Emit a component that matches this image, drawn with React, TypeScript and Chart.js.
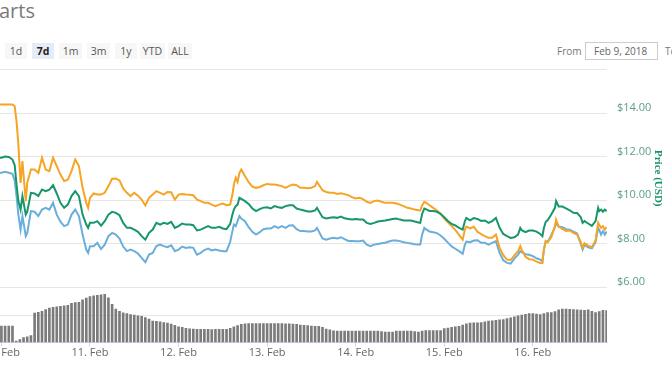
import React, { useEffect, useRef } from 'react';
import { Chart, registerables } from 'chart.js';

Chart.register(...registerables);

// hours since 10 Feb 2018 00:00
const priceHours = [
  -1, 0, 1, 2, 3, 3.6, 4.1, 4.6, 5.2, 5.7, 6.6, 7,
  8, 9, 10, 11, 12, 13, 14, 15,
  16, 17, 18, 19, 20, 21, 22, 23,
  23.5, 24, 25, 26, 27, 28, 29, 30, 31,
  32, 33, 34, 35, 36, 37, 38, 39, 40, 41,
  42, 43, 44, 45, 46, 47, 48, 49, 50, 51,
  52, 53, 54, 55, 56, 57, 58, 59, 60, 61,
  62, 62.6, 63, 63.5, 64, 64.5, 65, 66, 67, 68,
  69, 70, 71, 72, 73, 74, 75, 76, 77, 78,
  79, 80, 81, 82, 83, 84, 85, 85.5,
  87, 88, 89, 90, 91, 92, 93, 94, 95, 96,
  97, 98, 99, 100, 101, 102, 103, 104, 105, 106,
  107, 108, 109, 110, 111, 112, 113, 113.5,
  114, 114.6, 115, 116, 117, 118, 119, 120, 121, 122,
  123, 124, 125, 125.6, 126, 127, 128, 129, 130, 131,
  132, 133, 134, 135, 136, 137, 138, 139, 140, 140.6,
  141, 142, 143, 144, 145, 146, 146.6, 147, 147.5, 148,
  149, 150, 150.3, 151, 152, 153, 154, 155, 156, 157,
  157.5, 158, 159, 160, 161, 161.7, 162, 162.5, 163, 163.5, 164,
];

const orangeSeries = [
  14.39, 14.39, 14.39, 14.39, 14.39, 14.31, 13.62, 12.55, 10.79, 11.79, 9.95, 10.79,
  11.4, 11.4, 11.25, 11.94, 11.4, 11.33, 11.94, 11.56,
  11.17, 10.87, 10.93, 11.33, 11.86, 11.56, 10.56, 9.87,
  9.64, 10.1, 10.3, 10.25, 10.25, 10.33, 10.64, 10.98, 10.99,
  10.9, 10.53, 10.33, 10.18, 10.33, 10.2, 10.02, 9.75, 10.1, 10.25,
  10.41, 10.33, 10.25, 10.37, 10.36, 10.02, 10.25, 10.28, 10.25, 10.24,
  10.22, 10.02, 9.95, 9.87, 9.87, 9.79, 9.72, 9.79, 9.84, 9.76,
  9.79, 10.25, 10.71, 11.02, 10.83, 11.25, 11.4, 11.1, 10.82, 10.62,
  10.56, 10.6, 10.68, 10.74, 10.71, 10.71, 10.68, 10.64, 10.56, 10.65,
  10.71, 10.68, 10.56, 10.56, 10.54, 10.56, 10.64, 10.84,
  10.45, 10.37, 10.33, 10.33, 10.28, 10.31, 10.27, 10.22, 10.13, 10.07,
  10.1, 10.04, 9.92, 9.87, 9.95, 9.98, 9.92, 9.87, 9.87, 9.87,
  9.84, 9.79, 9.72, 9.64, 9.61, 9.56, 9.53, 9.52,
  9.75, 9.92, 9.88, 9.76, 9.64, 9.52, 9.38, 9.15, 8.97, 8.8,
  8.63, 8.4, 8.18, 8.64, 8.78, 8.7, 8.77, 8.54, 8.43, 8.34,
  8.26, 8.26, 8.41, 7.8, 7.46, 7.26, 7.24, 7.46, 7.65, 7.88,
  7.72, 7.39, 7.28, 7.26, 7.17, 7.11, 7.11, 7.72, 8.11, 8.06,
  8.29, 8.8, 9.1, 8.78, 8.67, 8.58, 8.6, 8.49, 8.41, 8.06,
  7.8, 8.01, 7.9, 7.83, 8.14, 8.95, 8.86, 8.72, 8.8, 8.64, 8.75,
];

const greenSeries = [
  11.94, 11.94, 12.0, 11.98, 11.86, 11.6, 10.71, 9.95, 9.56, 10.18, 9.33, 9.46,
  10.33, 10.3, 10.18, 10.48, 10.41, 10.48, 10.68, 10.3,
  9.87, 9.64, 9.79, 10.18, 10.41, 10.18, 9.33, 8.87,
  8.72, 8.95, 8.95, 9.03, 8.82, 9.03, 9.33, 9.46, 9.41,
  9.3, 8.95, 8.72, 8.72, 8.64, 8.54, 8.34, 8.18, 8.49, 8.64,
  8.95, 8.87, 8.95, 8.9, 9.0, 8.72, 8.8, 8.92, 8.87, 8.87,
  8.84, 8.6, 8.64, 8.72, 8.8, 8.72, 8.72, 8.77, 8.69, 8.66,
  8.9, 9.33, 9.56, 9.72, 9.79, 10.1, 10.05, 9.95, 9.82, 9.61,
  9.49, 9.58, 9.65, 9.67, 9.61, 9.72, 9.67, 9.64, 9.72, 9.76,
  9.76, 9.61, 9.56, 9.52, 9.47, 9.47, 9.52, 9.64,
  9.21, 9.15, 9.18, 9.21, 9.18, 9.24, 9.16, 9.13, 9.1, 9.13,
  9.1, 9.1, 8.95, 8.9, 8.95, 9.01, 9.04, 9.06, 9.09, 9.13,
  9.15, 9.1, 9.06, 9.06, 9.06, 9.01, 8.97, 8.95,
  9.36, 9.61, 9.58, 9.5, 9.49, 9.46, 9.36, 9.21, 9.04, 8.9,
  8.83, 8.72, 8.64, 9.03, 9.18, 9.07, 9.17, 9.13, 9.04, 9.06,
  8.95, 9.03, 9.18, 8.72, 8.44, 8.34, 8.26, 8.29, 8.41, 8.72,
  8.61, 8.52, 8.6, 8.6, 8.55, 8.44, 8.34, 8.72, 9.0, 9.07,
  9.33, 9.64, 9.95, 9.7, 9.7, 9.62, 9.53, 9.41, 9.4, 9.21,
  8.95, 9.03, 8.92, 8.81, 9.03, 9.64, 9.49, 9.56, 9.46, 9.56, 9.49,
];

const blueSeries = [
  11.25, 11.25, 11.3, 11.25, 11.2, 10.9, 10.18, 9.33, 8.64, 9.26, 8.34, 8.49,
  9.49, 9.46, 9.26, 9.56, 9.64, 9.56, 9.87, 9.33,
  9.0, 8.8, 8.87, 9.33, 9.56, 9.26, 8.41, 7.72,
  7.57, 7.88, 7.88, 8.03, 7.75, 7.95, 8.34, 8.49, 8.41,
  8.23, 7.86, 7.65, 7.72, 7.65, 7.54, 7.34, 7.14, 7.49, 7.57,
  7.88, 7.95, 7.88, 7.83, 7.92, 7.65, 7.72, 7.86, 7.8, 7.83,
  7.8, 7.49, 7.57, 7.7, 7.77, 7.68, 7.72, 7.68, 7.65, 7.65,
  8.08, 8.57, 8.87, 8.8, 9.03, 9.26, 9.15, 9.03, 8.75, 8.54,
  8.41, 8.52, 8.66, 8.69, 8.69, 8.8, 8.72, 8.8, 8.72, 8.83,
  8.84, 8.66, 8.57, 8.57, 8.55, 8.55, 8.6, 8.72,
  8.23, 8.18, 8.23, 8.26, 8.23, 8.29, 8.2, 8.12, 8.12, 8.11,
  8.11, 8.14, 7.95, 7.88, 7.95, 7.98, 8.01, 8.04, 8.09, 8.14,
  8.14, 8.11, 8.06, 8.03, 8.0, 7.97, 7.95, 7.95,
  8.41, 8.72, 8.66, 8.55, 8.52, 8.48, 8.37, 8.22, 8.04, 7.87,
  7.76, 7.65, 7.53, 7.95, 8.09, 8.06, 8.14, 8.15, 8.03, 8.03,
  7.95, 8.03, 8.11, 7.57, 7.23, 7.11, 7.08, 7.31, 7.49, 7.65,
  7.6, 7.51, 7.48, 7.42, 7.32, 7.26, 7.19, 7.72, 8.11, 8.06,
  8.38, 8.75, 8.95, 8.78, 8.75, 8.66, 8.63, 8.55, 8.46, 7.98,
  7.72, 7.94, 7.83, 7.78, 8.06, 8.72, 8.63, 8.41, 8.57, 8.41, 8.55,
];

// hourly volume bars, first bar at hour -1
const volumeValues = [
  0.61, 0.61, 0.61, 0.61, 0.61, 0.06, 0.12, 0.19, 0.22, 0.26,
  1.08, 1.11, 1.15, 1.21, 1.26, 1.29, 1.31, 1.33, 1.35, 1.36,
  1.44, 1.46, 1.47, 1.56, 1.63, 1.68, 1.71, 1.73, 1.75, 1.76,
  1.64, 1.4, 1.23, 1.15, 1.09, 1.06, 1.03, 1.01, 0.98, 0.96,
  0.92, 0.86, 0.79, 0.78, 0.76, 0.74, 0.72, 0.68, 0.64, 0.58,
  0.56, 0.53, 0.51, 0.5, 0.49, 0.49, 0.49, 0.49, 0.48, 0.49,
  0.49, 0.49, 0.49, 0.53, 0.58, 0.63, 0.67, 0.69, 0.7, 0.7,
  0.7, 0.7, 0.7, 0.7, 0.7, 0.7, 0.7, 0.7, 0.69, 0.69,
  0.68, 0.67, 0.65, 0.64, 0.63, 0.61, 0.6, 0.6, 0.56, 0.5,
  0.47, 0.44, 0.43, 0.43, 0.43, 0.43, 0.43, 0.43, 0.43, 0.43,
  0.43, 0.43, 0.43, 0.43, 0.41, 0.39, 0.39, 0.39, 0.43, 0.43,
  0.43, 0.43, 0.43, 0.41, 0.39, 0.43, 0.45, 0.45, 0.45, 0.45,
  0.45, 0.52, 0.54, 0.56, 0.58, 0.6, 0.65, 0.69, 0.72, 0.73,
  0.73, 0.74, 0.76, 0.79, 0.8, 0.82, 0.84, 0.85, 0.88, 0.91,
  0.95, 0.98, 1.01, 1.04, 1.06, 1.06, 1.05, 1.03, 1.06, 1.1,
  1.1, 1.14, 1.2, 1.23, 1.23, 1.22, 1.21, 1.2, 1.19, 1.18,
  1.2, 1.15, 1.1, 1.14, 1.18, 1.17,
];

const dayTicks = [0, 24, 48, 72, 96, 120, 144];
const dayLabels = ['10. Feb', '11. Feb', '12. Feb', '13. Feb', '14. Feb', '15. Feb', '16. Feb'];
const priceTicks = [6, 8, 10, 12, 14, 16];
const rangeButtons = ['1d', '7d', '1m', '3m', '1y', 'YTD', 'ALL'];
const buttonBoxes = [
  { left: 5, width: 22 }, { left: 32, width: 22 }, { left: 59, width: 23 }, { left: 87, width: 23 },
  { left: 115, width: 22 }, { left: 140, width: 25 }, { left: 168, width: 24 },
];

const FONT = '"Open Sans", "DejaVu Sans", sans-serif';
const ORANGE = '#f6a425';
const GREEN = '#17966b';
const BLUE = '#6aaedb';

const titlePlugin = {
  id: 'priceTitle',
  afterDraw(chart: any) {
    const ctx = chart.ctx;
    const ys = chart.scales.y;
    const cy = (ys.getPixelForValue(16) + ys.getPixelForValue(6)) / 2;
    ctx.save();
    ctx.translate(chart.width - 14, cy);
    ctx.rotate(Math.PI / 2);
    ctx.font = 'bold 11px "Liberation Serif", serif';
    ctx.fillStyle = '#1a9466';
    ctx.textAlign = 'center';
    ctx.textBaseline = 'middle';
    ctx.fillText('Price (USD)', 0, 0);
    ctx.restore();
  },
};

export default function App() {
  const ref = useRef<HTMLCanvasElement>(null);

  useEffect(() => {
    if (!ref.current) return;
    const volumeHours = volumeValues.map((_, i) => i - 1);
    const chart = new Chart(ref.current, {
      type: 'bar',
      data: {
        datasets: [
          {
            type: 'line', label: 'Price (USD)',
            data: priceHours.map((h, i) => ({ x: h, y: greenSeries[i] })),
            borderColor: GREEN, borderWidth: 2, pointRadius: 0, yAxisID: 'y', order: 1,
          } as any,
          {
            type: 'line', label: 'Price (BTC)',
            data: priceHours.map((h, i) => ({ x: h, y: orangeSeries[i] })),
            borderColor: ORANGE, borderWidth: 2, pointRadius: 0, yAxisID: 'y', order: 2,
          },
          {
            type: 'line', label: 'Market Cap',
            data: priceHours.map((h, i) => ({ x: h, y: blueSeries[i] })),
            borderColor: BLUE, borderWidth: 2, pointRadius: 0, yAxisID: 'y', order: 3,
          },
          {
            type: 'bar', label: 'Volume',
            data: volumeHours.map((h, i) => ({ x: h, y: volumeValues[i] })),
            backgroundColor: '#7b7b7b', yAxisID: 'yv', order: 4,
            barPercentage: 1, categoryPercentage: 0.72,
          },
        ],
      },
      options: {
        animation: false,
        responsive: false,
        maintainAspectRatio: false,
        layout: { padding: { top: 69.5, left: 0, right: 0, bottom: 0 } },
        plugins: { legend: { display: false }, tooltip: { enabled: false } },
        scales: {
          x: {
            type: 'linear', min: -0.38, max: 164.1, offset: false,
            afterBuildTicks: (s: any) => { s.ticks = dayTicks.map((v) => ({ value: v })); },
            afterFit: (s: any) => { s.height = 29.5; s.paddingLeft = 0; s.paddingRight = 0; },
            grid: { display: true, drawOnChartArea: false, tickLength: 4, color: '#ccd6eb', offset: false },
            border: { display: true, color: '#ccd6eb' },
            ticks: {
              autoSkip: false, maxRotation: 0, padding: 0, color: '#666666',
              font: { size: 11, family: FONT },
              callback: (v: any) => dayLabels[dayTicks.indexOf(Number(v))] ?? '',
            },
          },
          y: {
            position: 'right', min: 3.45, max: 16,
            afterBuildTicks: (s: any) => { s.ticks = priceTicks.map((v) => ({ value: v })); },
            afterFit: (s: any) => { s.width = 65; },
            grid: { color: '#e6e6e6', drawTicks: false },
            border: { display: false },
            ticks: {
              padding: 10, labelOffset: -5, color: '#5a9e89',
              font: { size: 11, family: FONT },
              callback: (v: any) => (Number(v) === 16 ? '' : '$' + Number(v).toFixed(2)),
            },
          },
          yv: {
            position: 'left', min: 0, max: 9.93,
            afterBuildTicks: (s: any) => { s.ticks = [{ value: 1 }]; },
            afterFit: (s: any) => { s.width = 0; },
            grid: { color: '#e6e6e6', drawTicks: false },
            border: { display: false },
            ticks: { display: false },
          },
        },
      } as any,
      plugins: [titlePlugin],
    });
    return () => chart.destroy();
  }, []);

  return (
    <div style={{ position: 'absolute', left: 0, top: 0, width: 672, height: 372, overflow: 'hidden', background: '#fff', fontFamily: FONT }}>
      <div style={{ position: 'absolute', left: -1, top: -3, fontSize: 20, color: '#7a7a7a', lineHeight: '28px' }}>arts</div>
      {rangeButtons.map((b, i) => (
        <div key={b} style={{
          position: 'absolute', left: buttonBoxes[i].left, top: 43, width: buttonBoxes[i].width, height: 16,
          background: b === '7d' ? '#e6ebf5' : '#f7f7f7', color: b === '7d' ? '#222' : '#555',
          fontWeight: b === '7d' ? 700 : 400, fontSize: 10.5, lineHeight: '16px', textAlign: 'center',
        }}>{b}</div>
      ))}
      <div style={{ position: 'absolute', left: 557, top: 43, fontSize: 10, lineHeight: '16px', color: '#777' }}>From</div>
      <div style={{
        position: 'absolute', left: 585, top: 42, width: 63, height: 16, border: '1px solid #cccccc',
        fontSize: 10, lineHeight: '16px', color: '#666', paddingLeft: 8, boxSizing: 'content-box',
      }}>Feb 9, 2018</div>
      <div style={{ position: 'absolute', left: 665, top: 43, fontSize: 10, lineHeight: '16px', color: '#777' }}>To</div>
      <canvas ref={ref} width={672} height={372} style={{ position: 'absolute', left: 0, top: 0, display: 'block' }} />
    </div>
  );
}
